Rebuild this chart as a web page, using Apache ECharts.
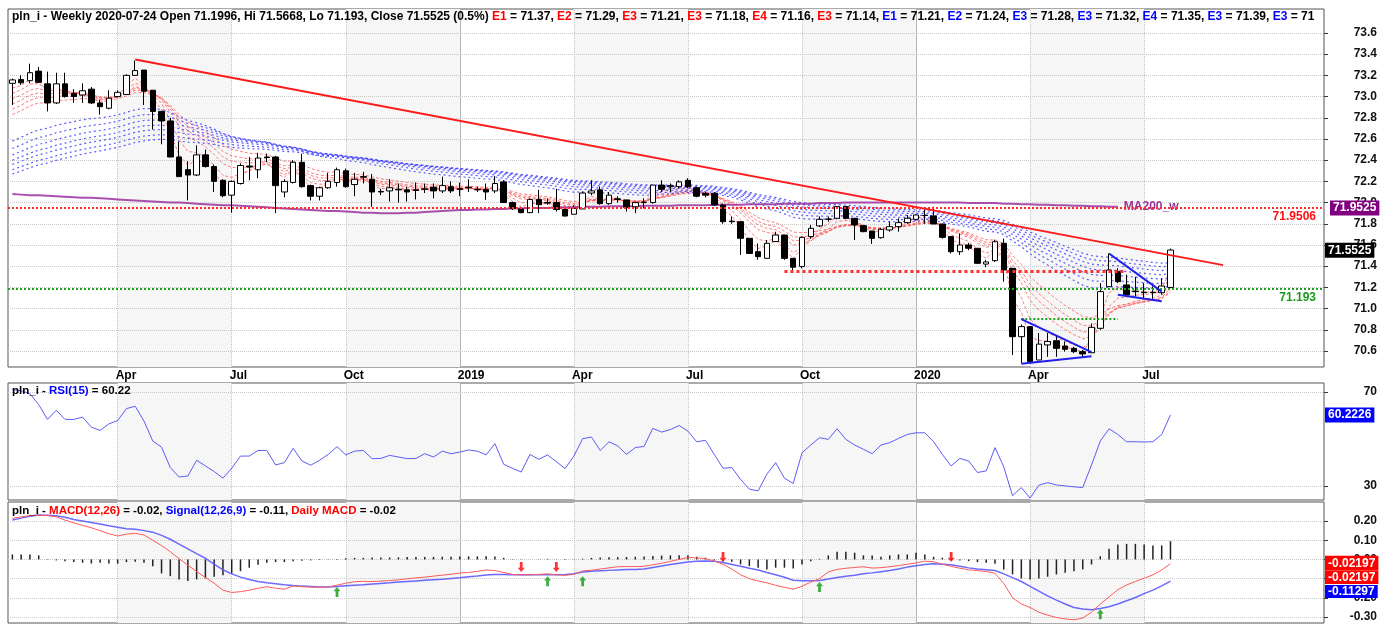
<!DOCTYPE html>
<html>
<head>
<meta charset="utf-8">
<title>pln_i weekly</title>
<script src="https://cdn.jsdelivr.net/npm/echarts@6/dist/echarts.min.js"></script>
<style>
  html, body { margin: 0; padding: 0; background: #fff; }
  #chart { width: 1385px; height: 628px; }
</style>
</head>
<body>
<div id="chart"></div>
<script>
// weekly bars: first 2018-01-12, last 2020-07-24, then empty weeks on the right
const firstWeek = Date.UTC(2018, 0, 12);
const weekCount = 150;
const dates = [];
for (let i = 0; i < weekCount; i++) {
    dates.push(new Date(firstWeek + i * 7 * 864e5).toISOString().slice(0, 10));
}

const xTickIdx = [12, 25, 38, 51, 64, 77, 90, 103, 116, 129];
const xTickLabels = ['Apr', 'Jul', 'Oct', '2019', 'Apr', 'Jul', 'Oct', '2020', 'Apr', 'Jul'];
const yearIdx = [51, 103];
const shadedQuarters = [[12, 25], [38, 51], [64, 77], [90, 103], [116, 129]];

const priceTicks = [70.6, 70.8, 71.0, 71.2, 71.4, 71.6, 71.8, 72.0, 72.2, 72.4, 72.6, 72.8, 73.0, 73.2, 73.4, 73.6];
const rsiTicks = [30, 70];
const macdTicks = [-0.3, -0.2, -0.1, 0, 0.1, 0.2];

const opens = [73.125, 73.16, 73.15, 73.24, 73.12, 72.94, 73.12, 73.03, 73.015, 73.07,
    72.94, 72.89, 73.00, 73.02, 73.20, 73.25, 73.06, 72.86, 72.77, 72.43,
    72.31, 72.26, 72.45, 72.34, 72.21, 72.07, 72.18, 72.345, 72.31, 72.43,
    72.43, 72.10, 72.19, 72.38, 72.16, 72.06, 72.14, 72.19, 72.30, 72.17,
    72.245, 72.22, 72.105, 72.11, 72.125, 72.12, 72.12, 72.125, 72.144, 72.11,
    72.15, 72.13, 72.14, 72.125, 72.125, 72.11, 72.195, 72.00, 71.94, 71.905,
    72.03, 72.00, 72.00, 71.935, 71.89, 71.94, 72.09, 72.12, 71.99, 72.035,
    72.025, 71.96, 72.00, 72.00, 72.165, 72.15, 72.15, 72.21, 72.14, 72.085,
    72.088, 71.977, 71.825, 71.82, 71.663, 71.537, 71.474, 71.632, 71.694, 71.474,
    71.396, 71.679, 71.78, 71.842, 71.852, 71.962, 71.852, 71.782, 71.732, 71.669,
    71.742, 71.773, 71.811, 71.842, 71.88, 71.874, 71.798, 71.679, 71.537, 71.60,
    71.569, 71.42, 71.452, 71.616, 71.38, 70.735, 70.83, 70.515, 70.657, 70.697,
    70.647, 70.625, 70.594, 70.584, 70.814, 71.207, 71.348, 71.223, 71.165, 71.155,
    71.155, 71.15, 71.1996];
const closes = [73.157, 73.13, 73.225, 73.135, 72.94, 73.12, 73.00, 73.00, 73.055, 72.94,
    72.905, 72.985, 73.04, 73.20, 73.245, 73.05, 72.86, 72.77, 72.43, 72.245,
    72.26, 72.45, 72.34, 72.20, 72.065, 72.20, 72.35, 72.335, 72.42, 72.425,
    72.16, 72.20, 72.38, 72.15, 72.06, 72.14, 72.20, 72.31, 72.15, 72.22,
    72.24, 72.10, 72.10, 72.14, 72.12, 72.10, 72.115, 72.13, 72.11, 72.16,
    72.11, 72.125, 72.145, 72.12, 72.10, 72.18, 72.00, 71.945, 71.905, 72.03,
    71.98, 71.995, 71.935, 71.873, 71.945, 72.09, 72.11, 71.99, 72.07, 72.03,
    71.955, 72.00, 72.005, 72.165, 72.125, 72.16, 72.195, 72.15, 72.06, 72.07,
    71.977, 71.82, 71.82, 71.663, 71.52, 71.49, 71.616, 71.694, 71.474, 71.39,
    71.672, 71.757, 71.842, 71.845, 71.962, 71.852, 71.789, 71.726, 71.663, 71.748,
    71.773, 71.811, 71.852, 71.883, 71.878, 71.798, 71.672, 71.537, 71.60, 71.569,
    71.427, 71.44, 71.631, 71.364, 70.735, 70.83, 70.50, 70.665, 70.689, 70.625,
    70.616, 70.594, 70.572, 70.823, 71.16, 71.364, 71.254, 71.128, 71.16, 71.15,
    71.15, 71.213, 71.5525];
const lows = [72.92, 73.11, 73.125, 73.13, 72.86, 72.93, 72.99, 72.94, 72.94, 72.93,
    72.83, 72.88, 72.99, 73.02, 73.20, 72.92, 72.69, 72.55, 72.43, 72.24,
    72.02, 72.25, 72.33, 72.10, 72.05, 71.905, 72.17, 72.21, 72.23, 72.38,
    71.90, 72.05, 72.18, 72.14, 72.02, 72.02, 72.13, 72.15, 72.14, 72.06,
    72.18, 71.96, 72.07, 72.01, 72.00, 72.01, 72.03, 72.09, 72.04, 72.09,
    72.09, 72.06, 72.10, 72.10, 72.025, 72.09, 72.00, 71.93, 71.90, 71.90,
    71.90, 71.98, 71.915, 71.87, 71.89, 71.94, 72.07, 71.98, 71.98, 72.00,
    71.915, 71.90, 71.945, 71.99, 72.10, 72.10, 72.135, 72.135, 72.05, 72.05,
    71.97, 71.80, 71.80, 71.506, 71.52, 71.46, 71.474, 71.632, 71.46, 71.35,
    71.38, 71.66, 71.77, 71.82, 71.842, 71.842, 71.647, 71.72, 71.61, 71.66,
    71.725, 71.725, 71.80, 71.83, 71.80, 71.798, 71.66, 71.52, 71.506, 71.55,
    71.42, 71.39, 71.44, 71.254, 70.562, 70.484, 70.49, 70.515, 70.545, 70.545,
    70.594, 70.58, 70.545, 70.58, 70.80, 71.207, 71.24, 71.113, 71.113, 71.10,
    71.08, 71.13, 71.193];
const highs = [73.17, 73.20, 73.31, 73.28, 73.235, 73.225, 73.225, 73.07, 73.125, 73.09,
    72.97, 73.06, 73.06, 73.21, 73.34, 73.25, 73.06, 72.86, 72.80, 72.575,
    72.39, 72.54, 72.50, 72.36, 72.22, 72.21, 72.37, 72.43, 72.47, 72.46,
    72.44, 72.22, 72.40, 72.46, 72.17, 72.15, 72.28, 72.33, 72.32, 72.28,
    72.29, 72.27, 72.13, 72.22, 72.18, 72.15, 72.19, 72.18, 72.18, 72.245,
    72.20, 72.19, 72.22, 72.15, 72.18, 72.25, 72.21, 72.01, 71.96, 72.04,
    72.12, 72.04, 72.13, 71.94, 71.975, 72.105, 72.21, 72.15, 72.10, 72.06,
    72.025, 72.01, 72.04, 72.165, 72.21, 72.18, 72.21, 72.23, 72.15, 72.10,
    72.10, 71.99, 71.87, 71.82, 71.663, 71.615, 71.646, 71.725, 71.694, 71.474,
    71.68, 71.79, 71.87, 71.868, 71.968, 71.962, 71.852, 71.79, 71.732, 71.76,
    71.82, 71.85, 71.883, 71.89, 71.93, 71.962, 71.80, 71.68, 71.71, 71.62,
    71.57, 71.46, 71.65, 71.66, 71.38, 70.85, 70.83, 70.77, 70.77, 70.75,
    70.69, 70.64, 70.61, 70.86, 71.24, 71.521, 71.38, 71.32, 71.30, 71.24,
    71.21, 71.285, 71.5668];

// 200-week moving average as drawn (purple)
const ma200 = [72.08, 72.075, 72.07, 72.07, 72.065, 72.06, 72.055, 72.05, 72.045, 72.045, 72.04, 72.035, 72.03,
    72.025, 72.02, 72.015, 72.01, 72.005, 72.0, 72.0, 71.995, 71.99, 71.985, 71.98, 71.975, 71.975,
    71.97, 71.965, 71.96, 71.955, 71.95, 71.945, 71.94, 71.935, 71.93, 71.925, 71.92, 71.92, 71.915,
    71.91, 71.905, 71.905, 71.9, 71.9, 71.9, 71.905, 71.905, 71.91, 71.915, 71.92, 71.925, 71.93,
    71.93, 71.935, 71.935, 71.94, 71.94, 71.945, 71.945, 71.95, 71.95, 71.95, 71.955, 71.955, 71.955,
    71.96, 71.96, 71.96, 71.965, 71.965, 71.965, 71.965, 71.97, 71.97, 71.97, 71.97, 71.975, 71.975,
    71.975, 71.975, 71.98, 71.98, 71.98, 71.98, 71.985, 71.985, 71.985, 71.985, 71.99, 71.99, 71.99,
    71.99, 71.995, 71.995, 71.995, 72.0, 72.0, 72.0, 72.0, 72.0, 72.0, 72.0, 72.0, 72.0,
    72.0, 72.0, 72.0, 72.0, 72.0, 71.995, 71.995, 71.995, 71.995, 71.99, 71.99, 71.985, 71.985,
    71.98, 71.98, 71.975, 71.975, 71.97, 71.97, 71.965, 71.965, 71.96, 71.96];

// Guppy ribbons: EMA periods and their values at the first bar
const shortPeriods = [3, 5, 8, 10, 12, 15];
const shortSeeds = [73.08, 73.03, 72.98, 72.93, 72.88, 72.83];
const longPeriods = [30, 35, 40, 45, 50, 55, 60];
const longSeeds = [72.58, 72.51, 72.45, 72.40, 72.36, 72.31, 72.27];

const rsi = [71.0, 70.5, 69.2, 64.6, 58.3, 62.2, 58.3, 58.3, 59.3, 55.0,
    53.6, 56.4, 57.8, 62.9, 63.9, 57.6, 49.1, 46.5, 37.8, 33.8,
    34.2, 40.9, 38.5, 36.1, 33.3, 37.5, 42.7, 42.7, 45.1, 45.1,
    38.9, 39.9, 46.0, 40.6, 38.8, 40.9, 43.4, 46.7, 43.2, 44.8,
    45.1, 41.6, 41.7, 43.0, 42.3, 41.6, 41.7, 43.7, 42.3, 44.8,
    43.7, 44.4, 45.3, 44.8, 43.2, 48.0, 39.2, 37.5, 35.9, 43.4,
    41.3, 43.2, 40.3, 37.4, 42.7, 50.1, 50.8, 45.1, 48.8, 47.0,
    43.4, 46.3, 46.8, 54.5, 52.9, 54.0, 55.7, 53.3, 48.8, 49.4,
    43.4, 37.5, 37.8, 32.8, 28.6, 27.9, 35.0, 39.9, 33.3, 31.0,
    44.1, 47.4, 50.5, 49.8, 54.3, 49.8, 47.4, 45.6, 43.7, 47.4,
    48.4, 50.2, 51.9, 52.6, 52.6, 48.8, 43.4, 38.5, 41.7, 40.6,
    35.7, 36.4, 46.3, 38.1, 25.8, 29.3, 24.8, 30.3, 31.4, 30.4,
    30.0, 29.6, 29.3, 38.9, 49.1, 54.3, 51.9, 48.8, 48.8, 48.7,
    48.8, 51.9, 60.22];

const macd = [0.214, 0.222, 0.228, 0.231, 0.228, 0.222, 0.205, 0.190, 0.177, 0.165,
    0.150, 0.134, 0.122, 0.132, 0.136, 0.127, 0.100, 0.072, 0.040, 0.004,
    -0.030, -0.063, -0.094, -0.124, -0.160, -0.172, -0.168, -0.160, -0.150, -0.142,
    -0.150, -0.155, -0.138, -0.142, -0.144, -0.145, -0.144, -0.134, -0.124, -0.116,
    -0.114, -0.115, -0.113, -0.110, -0.106, -0.101, -0.096, -0.092, -0.087, -0.082,
    -0.077, -0.071, -0.068, -0.062, -0.055, -0.058, -0.068, -0.078, -0.081, -0.080,
    -0.078, -0.075, -0.080, -0.083, -0.078, -0.060, -0.056, -0.050, -0.044, -0.038,
    -0.037, -0.037, -0.036, -0.028, -0.020, -0.010, 0.000, 0.010, 0.008, 0.004,
    -0.008, -0.025, -0.050, -0.080, -0.100, -0.112, -0.122, -0.135, -0.145, -0.155,
    -0.140, -0.118, -0.100, -0.065, -0.052, -0.046, -0.042, -0.038, -0.045, -0.043,
    -0.038, -0.032, -0.025, -0.018, -0.009, -0.012, -0.025, -0.036, -0.046, -0.054,
    -0.058, -0.063, -0.072, -0.125, -0.200, -0.232, -0.250, -0.275, -0.290, -0.302,
    -0.310, -0.314, -0.305, -0.275, -0.232, -0.195, -0.158, -0.133, -0.115, -0.098,
    -0.080, -0.055, -0.022];
const signal = [0.205, 0.215, 0.225, 0.231, 0.230, 0.227, 0.220, 0.208, 0.200, 0.192,
    0.184, 0.175, 0.167, 0.160, 0.157, 0.150, 0.142, 0.125, 0.105, 0.080,
    0.055, 0.030, 0.006, -0.025, -0.054, -0.075, -0.092, -0.105, -0.115, -0.122,
    -0.127, -0.132, -0.136, -0.139, -0.141, -0.143, -0.144, -0.141, -0.137, -0.134,
    -0.132, -0.128, -0.125, -0.122, -0.118, -0.115, -0.112, -0.109, -0.106, -0.103,
    -0.099, -0.095, -0.090, -0.086, -0.081, -0.079, -0.079, -0.080, -0.080, -0.080,
    -0.080, -0.080, -0.080, -0.078, -0.074, -0.066, -0.062, -0.059, -0.057, -0.055,
    -0.053, -0.052, -0.050, -0.042, -0.034, -0.027, -0.020, -0.013, -0.010, -0.008,
    -0.010, -0.016, -0.026, -0.036, -0.046, -0.055, -0.068, -0.080, -0.093, -0.108,
    -0.111, -0.111, -0.110, -0.102, -0.094, -0.088, -0.082, -0.075, -0.070, -0.064,
    -0.058, -0.050, -0.040, -0.033, -0.026, -0.023, -0.025, -0.028, -0.036, -0.044,
    -0.050, -0.054, -0.058, -0.075, -0.095, -0.115, -0.140, -0.165, -0.190, -0.212,
    -0.232, -0.250, -0.258, -0.262, -0.255, -0.246, -0.232, -0.215, -0.198, -0.178,
    -0.160, -0.138, -0.113];
const hist = [0.026, 0.026, 0.026, 0.021, 0.002, -0.005, -0.009, -0.014, -0.017, -0.021,
    -0.017, -0.021, -0.022, -0.014, -0.012, -0.017, -0.035, -0.073, -0.087, -0.104,
    -0.112, -0.104, -0.099, -0.090, -0.083, -0.073, -0.061, -0.043, -0.028, -0.017,
    -0.014, -0.014, -0.009, -0.007, -0.005, -0.003, -0.002, 0.002, 0.006, 0.008,
    0.008, 0.010, 0.010, 0.010, 0.011, 0.012, 0.012, 0.013, 0.013, 0.014,
    0.014, 0.015, 0.016, 0.016, 0.017, 0.015, 0.008, 0.002, -0.002, -0.001,
    0.001, 0.003, -0.001, -0.003, -0.002, 0.004, 0.008, 0.010, 0.011, 0.012,
    0.013, 0.014, 0.015, 0.018, 0.020, 0.021, 0.022, 0.022, 0.014, 0.009,
    -0.005, -0.009, -0.012, -0.026, -0.035, -0.043, -0.052, -0.043, -0.043, -0.047,
    -0.026, -0.009, 0.003, 0.021, 0.040, 0.040, 0.035, 0.021, 0.021, 0.014,
    0.021, 0.026, 0.026, 0.035, 0.026, 0.014, 0.009, 0.003, -0.005, -0.009,
    -0.014, -0.017, -0.022, -0.052, -0.078, -0.099, -0.104, -0.099, -0.090, -0.078,
    -0.069, -0.061, -0.052, -0.026, 0.017, 0.055, 0.078, 0.081, 0.081, 0.078,
    0.073, 0.073, 0.095];

// crossover arrows in the MACD pane: bar index and drawn level
const sellIdx = [58, 62, 81, 107];
const sellLevel = [-0.039, -0.039, 0.013, 0.013];
const buyIdx = [37, 61, 65, 92, 124];
const buyLevel = [-0.170, -0.113, -0.113, -0.143, -0.285];

// drawn lines on the price pane: [bar index, price]
const trendLine = [[14, 73.35], [138, 71.41]];
const supportLine = [[88, 71.355], [127, 71.355]];
const lowLine = [[115, 70.90], [126, 70.90]];
const wedgeLines = [
    [[115, 70.90], [123, 70.59]],
    [[115, 70.48], [123, 70.55]],
    [[125, 71.52], [131, 71.16]],
    [[126, 71.13], [131, 71.07]]
];
const redLevel = 71.9506;
const greenLevel = 71.193;
const lastClose = 71.5525;
const lastMA = 71.9525;
const lastRsi = 60.2226;
const lastMacd = -0.02197;
const lastSignal = -0.11297;

const shortNames = ['E1', 'E2', 'E3', 'E3', 'E4', 'E3'];
const shortValues = ['71.37', '71.29', '71.21', '71.18', '71.16', '71.14'];
const longNames = ['E1', 'E2', 'E3', 'E3', 'E4', 'E3', 'E3'];
const longValues = ['71.21', '71.24', '71.28', '71.32', '71.35', '71.39', '71.43'];

[opens, highs, lows, rsi, macd, signal, hist].forEach(function (a, k) {
    if (a.length !== closes.length) throw new Error('length mismatch in array ' + k + ': ' + a.length);
});

function ema(values, period, seed) {
    const k = 2 / (period + 1);
    const out = [seed];
    for (let i = 1; i < values.length; i++) out.push(+(out[i - 1] + k * (values[i] - out[i - 1])).toFixed(4));
    return out;
}

const FONT = 'Liberation Sans';
const txt = function (color, size) {
    return { color: color, fontWeight: 'bold', fontSize: size || 11.5, fontFamily: FONT };
};
const rich = { k: txt('#000'), r: txt('#ff0000'), u: txt('#0000ff') };
const headRich = { k: txt('#000', 12), r: txt('#ff0000', 12), u: txt('#0000ff', 12) };

let header = '{k|pln_i - Weekly 2020-07-24 Open 71.1996, Hi 71.5668, Lo 71.193, Close 71.5525 (0.5%) }';
shortNames.forEach(function (n, j) { header += '{r|' + n + '}{k| = ' + shortValues[j] + ', }'; });
longNames.forEach(function (n, j) { header += '{u|' + n + '}{k| = ' + longValues[j] + ', }'; });

const grids = [
    { left: 8, right: 61, top: 9, height: 358 },
    { left: 8, right: 61, top: 383, height: 117 },
    { left: 8, right: 61, top: 502, height: 121 }
].map(function (g) {
    return Object.assign(g, { show: true, borderColor: '#555', borderWidth: 1, backgroundColor: '#fff' });
});

const gridLine = { color: '#c8c8c8', type: 'dotted', width: 1 };

function frameSeries(k, ticks) {
    const lines = xTickIdx.map(function (i) {
        const isYear = yearIdx.indexOf(i) >= 0;
        return { xAxis: dates[i], lineStyle: isYear ? { color: '#b4b4b4', type: 'solid', width: 1 } : { color: '#c4c4c4', type: 'dotted', width: 1 } };
    }).concat(ticks.map(function (v) { return { yAxis: v, lineStyle: gridLine }; }));
    return {
        type: 'line', xAxisIndex: k, yAxisIndex: k, data: [], silent: true, z: 1,
        markArea: {
            silent: true, z: 1,
            itemStyle: { color: '#f6f6f6' },
            data: shadedQuarters.map(function (q) { return [{ xAxis: dates[q[0]] }, { xAxis: dates[q[1]] }]; })
        },
        markLine: { silent: true, z: 1.5, symbol: 'none', label: { show: false }, data: lines }
    };
}

function seg(a, b, style) {
    return [{ coord: [dates[a[0]], a[1]], lineStyle: style }, { coord: [dates[b[0]], b[1]] }];
}

function valueBox(value, text, bg, distance) {
    return {
        yAxis: value,
        lineStyle: { color: 'rgba(0,0,0,0)', width: 0 },
        label: {
            show: true, position: 'end', distance: distance || 6, formatter: text,
            backgroundColor: bg, color: '#fff', fontWeight: 'bold', fontSize: 12, fontFamily: FONT,
            padding: [2, 3, 1, 3]
        }
    };
}

function yAxisFor(k, min, max, ticks, digits) {
    return {
        type: 'value', gridIndex: k, position: 'right', min: min, max: max,
        splitLine: { show: false }, axisLine: { show: false },
        axisTick: { show: true, customValues: ticks, length: 4, lineStyle: { color: '#333' } },
        axisLabel: {
            customValues: ticks, align: 'right', margin: 53,
            formatter: function (v) { return v.toFixed(digits); },
            color: '#111', fontWeight: 'bold', fontSize: 12, fontFamily: FONT
        }
    };
}

const candleData = closes.map(function (c, i) { return [opens[i], c, lows[i], highs[i]]; });

const ribbons = [];
shortPeriods.forEach(function (p, j) {
    ribbons.push({
        type: 'line', xAxisIndex: 0, yAxisIndex: 0, data: ema(closes, p, shortSeeds[j]),
        showSymbol: false, silent: true, z: 2,
        lineStyle: { color: '#ff5a5a', width: 1, type: [3, 2], opacity: 0.8 }
    });
});
longPeriods.forEach(function (p, j) {
    ribbons.push({
        type: 'line', xAxisIndex: 0, yAxisIndex: 0, data: ema(closes, p, longSeeds[j]),
        showSymbol: false, silent: true, z: 2,
        lineStyle: { color: '#3f3fff', width: 1.2, type: [2, 3], opacity: 0.85 }
    });
});

const arrowPath = 'path://M5,0 L10,6 L7,6 L7,14 L3,14 L3,6 L0,6 Z';

const option = {
    animation: false,
    backgroundColor: '#fff',
    title: [
        { left: 12, top: 11, text: header, padding: 0, textStyle: { rich: headRich, width: 1306, overflow: 'truncate', ellipsis: '' } },
        { left: 12, top: 385, padding: 0, text: '{k|pln_i - }{u|RSI(15)}{k| = 60.22}', textStyle: { rich: rich } },
        { left: 12, top: 505, padding: 0, text: '{k|pln_i - }{r|MACD(12,26)}{k| = -0.02, }{u|Signal(12,26,9)}{k| = -0.11, }{r|Daily MACD}{k| = -0.02}', textStyle: { rich: rich } }
    ],
    grid: grids,
    xAxis: [0, 1, 2].map(function (k) {
        return {
            type: 'category', gridIndex: k, data: dates, boundaryGap: true,
            axisLine: { show: false }, axisTick: { show: false }, splitLine: { show: false },
            axisLabel: k === 0 ? {
                interval: function (i) { return xTickIdx.indexOf(i) >= 0; },
                formatter: function (v, i) { return xTickLabels[xTickIdx.indexOf(i)]; },
                align: 'left', margin: 3, padding: [0, 0, 0, -2],
                color: '#000', fontWeight: 'bold', fontSize: 12, fontFamily: FONT
            } : { show: false }
        };
    }),
    yAxis: [
        yAxisFor(0, 70.449, 73.826, priceTicks, 1),
        yAxisFor(1, 24.0, 73.8, rsiTicks, 0),
        yAxisFor(2, -0.331, 0.299, macdTicks, 2)
    ],
    series: [
        frameSeries(0, priceTicks),
        frameSeries(1, rsiTicks),
        frameSeries(2, macdTicks)
    ].concat(ribbons).concat([
        {
            type: 'line', xAxisIndex: 0, yAxisIndex: 0, data: ma200, showSymbol: false, silent: true, z: 3,
            lineStyle: { color: '#9b30a0', width: 2, opacity: 0.85 },
            endLabel: { show: true, formatter: 'MA200_w', color: '#993399', fontWeight: 'bold', fontSize: 12, fontFamily: FONT, distance: 6 }
        },
        {
            type: 'candlestick', xAxisIndex: 0, yAxisIndex: 0, data: candleData, barWidth: 6, z: 4,
            itemStyle: { color: '#fff', color0: '#000', borderColor: '#000', borderColor0: '#000', borderWidth: 1 },
            markLine: {
                silent: true, symbol: 'none', label: { show: false },
                data: [
                    {
                        yAxis: redLevel, lineStyle: { color: '#ff2a2a', type: 'dotted', width: 2 },
                        label: { show: true, position: 'insideEndBottom', distance: [8, 3], formatter: '71.9506', color: '#ff1010', fontWeight: 'bold', fontSize: 12, fontFamily: FONT }
                    },
                    {
                        yAxis: greenLevel, lineStyle: { color: '#22a022', type: 'dotted', width: 2 },
                        label: { show: true, position: 'insideEndBottom', distance: [8, 3], formatter: '71.193', color: '#1a9a1a', fontWeight: 'bold', fontSize: 12, fontFamily: FONT }
                    },
                    seg(trendLine[0], trendLine[1], { color: '#ff1a1a', type: 'solid', width: 2 }),
                    seg(supportLine[0], supportLine[1], { color: '#ff3030', type: 'dotted', width: 3 }),
                    seg(lowLine[0], lowLine[1], { color: '#22a022', type: 'dotted', width: 2 })
                ].concat(wedgeLines.map(function (w) { return seg(w[0], w[1], { color: '#1f1fee', type: 'solid', width: 2 }); }))
                 .concat([valueBox(lastMA, '71.9525', '#800080', 6), valueBox(lastClose, '71.5525', '#000', 1)])
            }
        },
        {
            type: 'line', xAxisIndex: 1, yAxisIndex: 1, data: rsi, showSymbol: false, silent: true, z: 3,
            lineStyle: { color: '#5c5cf5', width: 1 },
            markLine: { silent: true, symbol: 'none', label: { show: false }, data: [valueBox(lastRsi, '60.2226', '#0000ff', 1)] }
        },
        {
            type: 'bar', xAxisIndex: 2, yAxisIndex: 2, data: hist, barWidth: 1.5, silent: true, z: 2,
            itemStyle: { color: '#222' }
        },
        {
            type: 'line', xAxisIndex: 2, yAxisIndex: 2, data: signal, showSymbol: false, silent: true, z: 3,
            lineStyle: { color: '#5a5aff', width: 1.5, opacity: 0.9 }
        },
        {
            type: 'line', xAxisIndex: 2, yAxisIndex: 2, data: macd, showSymbol: false, silent: true, z: 3,
            lineStyle: { color: '#ff5a5a', width: 1 },
            markLine: {
                silent: true, symbol: 'none', label: { show: false },
                data: [
                    valueBox(lastMacd, '-0.02197', '#ff0000', 1),
                    {
                        yAxis: lastSignal, lineStyle: { color: 'rgba(0,0,0,0)', width: 0 },
                        label: {
                            show: true, position: 'end', distance: 1, padding: [8, 0, 0, 0],
                            formatter: '{a|-0.02197}\n{b|-0.11297}',
                            rich: {
                                a: { backgroundColor: '#ff0000', color: '#fff', fontWeight: 'bold', fontSize: 12, fontFamily: FONT, padding: [1, 3, 0, 3], lineHeight: 14 },
                                b: { backgroundColor: '#0000ff', color: '#fff', fontWeight: 'bold', fontSize: 12, fontFamily: FONT, padding: [1, 3, 0, 3], lineHeight: 14 }
                            }
                        }
                    }
                ]
            }
        },
        {
            type: 'scatter', xAxisIndex: 2, yAxisIndex: 2, silent: true, z: 6,
            data: sellIdx.map(function (i, j) { return [dates[i], sellLevel[j]]; }),
            symbol: arrowPath, symbolSize: [7, 10], symbolRotate: 180, itemStyle: { color: '#ff0000' }
        },
        {
            type: 'scatter', xAxisIndex: 2, yAxisIndex: 2, silent: true, z: 6,
            data: buyIdx.map(function (i, j) { return [dates[i], buyLevel[j]]; }),
            symbol: arrowPath, symbolSize: [7, 10], itemStyle: { color: '#119911' }
        }
    ])
};

const chart = echarts.init(document.getElementById('chart'));
chart.setOption(option);
</script>
</body>
</html>
